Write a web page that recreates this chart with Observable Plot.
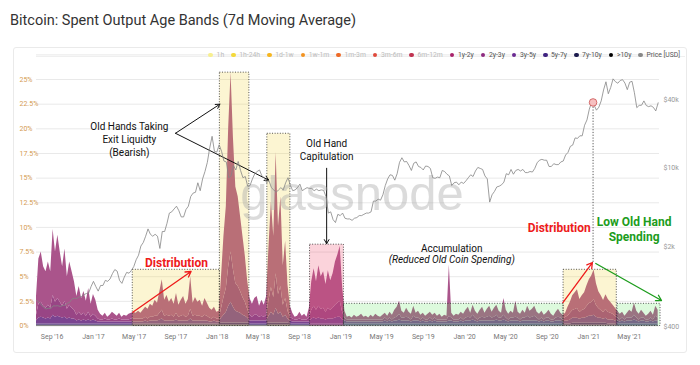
<!DOCTYPE html>
<html>
<head>
<meta charset="utf-8">
<script src="https://cdn.jsdelivr.net/npm/d3@7"></script>
<script src="https://cdn.jsdelivr.net/npm/@observablehq/plot@0.6"></script>
<style>
  html, body { margin: 0; padding: 0; background: #fff; }
  #root { position: relative; width: 700px; height: 365px; overflow: hidden; font-family: Roboto, "Noto Sans", sans-serif; background: #fff; }
  #title { position: absolute; left: 10px; top: 12px; font-size: 14.5px; line-height: 18px; color: #333; white-space: nowrap; }
  #panel { position: absolute; left: 13px; top: 47px; width: 674px; height: 306px; border: 1px solid #eaeaea; border-radius: 3px; box-sizing: border-box; }
  #sep { position: absolute; left: 36px; top: 56px; width: 649px; height: 1px; background: #efefef; }
  #wm { position: absolute; left: 2px; top: 168.5px; width: 700px; text-align: center; font-family: "Liberation Sans", sans-serif; font-size: 49px; line-height: 49px; color: rgba(170,170,170,0.42); }
  .layer { position: absolute; left: 0; top: 44px; }
  #legend { position: absolute; right: 20px; top: 50px; height: 10px; display: flex; align-items: center; gap: 7px; font-size: 6.8px; white-space: nowrap; }
  .item { display: flex; align-items: center; }
  .dot { width: 4.6px; height: 4.6px; border-radius: 50%; margin-right: 3.5px; }
</style>
</head>
<body>
<div id="root">
  <div id="title">Bitcoin: Spent Output Age Bands (7d Moving Average)</div>
  <div id="panel"></div>
  <div id="sep"></div>
  <div id="l1" class="layer"></div>
  <div id="wm">glassnode</div>
  <div id="l2" class="layer"></div>
  <div id="legend"></div>
</div>
<script>
// ---------- DATA (weekly, Sundays from 2016-07-17 to 2021-07-25) ----------
const weekStart = "2016-07-17";
const weekStop = "2021-07-26";
const xDomain = ["2016-07-17", "2021-07-29"];

const bands = [">10y", "7y-10y", "5y-7y", "3y-5y", "2y-3y", "1y-2y"];
const bandFill = ["#1a1a1a", "#2f2858", "#52347e", "#7a4491", "#984585", "#aa548b"];

const v1y2y = [
 1.9,4.6,5.1,4.0,3.7,4.4,3.7,6.7,5.1,6.4,
 5.1,4.0,5.3,3.3,4.4,3.7,2.9,1.9,2.6,1.7,
 2.2,1.5,2.4,1.3,2.0,1.6,0.9,0.6,0.4,0.6,
 0.3,0.5,0.7,0.6,0.4,0.6,0.3,0.5,0.4,0.6,
 0.6,0.7,0.6,0.8,0.6,0.9,1.0,1.0,1.3,1.1,
 1.6,1.3,2.2,3.1,1.6,2.0,1.4,1.7,1.3,2.0,
 1.2,1.6,1.9,1.3,1.7,3.3,1.3,1.8,1.4,1.6,
 1.1,1.7,1.3,1.0,0.9,1.0,0.7,0.8,3.3,6.2,
 8.3,14.1,18.2,13.4,9.8,9.1,7.6,6.2,4.7,2.9,
 1.7,1.3,1.7,1.9,1.1,1.6,1.2,1.9,5.5,8.7,
 6.2,12.3,6.9,9.1,4.0,5.8,2.6,1.1,0.6,0.3,
 0.4,0.7,0.4,0.6,0.3,1.0,2.9,3.8,2.9,4.1,
 3.3,3.7,2.8,3.8,3.0,3.5,4.4,4.9,5.6,2.6,
 0.7,0.3,0.4,0.2,0.5,0.3,0.4,0.6,0.3,0.4,
 0.2,0.5,0.3,0.6,0.4,0.3,0.5,0.5,0.4,0.6,
 0.5,0.8,1.0,1.3,0.7,0.5,0.9,0.6,0.6,1.0,
 0.5,0.7,0.5,0.5,0.4,0.6,0.6,0.5,0.5,0.4,
 0.6,0.3,0.5,0.4,5.2,0.5,0.4,0.6,0.5,0.6,
 0.6,0.8,1.0,0.5,1.0,0.7,0.6,0.8,1.0,0.5,
 0.8,1.0,0.6,0.9,1.0,0.7,0.5,1.7,0.8,0.6,
 0.7,0.5,1.6,0.6,0.6,0.8,0.5,1.0,0.7,0.8,
 1.0,0.6,0.6,0.7,0.5,0.5,0.8,0.6,0.4,0.6,
 0.8,0.5,0.5,0.4,0.9,1.1,1.5,1.7,1.9,1.3,
 1.5,1.7,2.1,2.4,2.7,3.0,2.2,1.7,1.5,1.2,
 1.5,1.3,1.1,0.9,0.8,0.7,0.6,0.6,0.4,0.5,
 0.8,0.6,1.2,0.7,0.6,0.8,0.5,0.4,0.6,0.7,
 0.5,1.0,0.8
];
const v2y3y = [
 0.6,1.4,1.5,1.2,1.1,1.3,1.1,2.0,1.5,1.8,
 1.5,1.2,1.6,1.0,1.3,1.1,0.9,0.6,0.8,0.6,
 0.7,0.5,0.8,0.4,0.6,0.5,0.3,0.2,0.2,0.3,
 0.2,0.2,0.3,0.2,0.2,0.3,0.2,0.2,0.2,0.2,
 0.3,0.3,0.3,0.3,0.3,0.3,0.4,0.3,0.4,0.4,
 0.5,0.5,0.7,0.9,0.5,0.6,0.5,0.6,0.4,0.7,
 0.4,0.5,0.6,0.4,0.5,1.0,0.5,0.6,0.5,0.5,
 0.4,0.6,0.5,0.4,0.3,0.4,0.3,0.3,1.0,1.8,
 2.4,4.0,5.1,3.8,2.8,2.6,2.2,1.8,1.4,0.9,
 0.6,0.4,0.6,0.6,0.4,0.5,0.4,0.6,1.6,2.5,
 1.8,3.5,2.0,2.6,1.2,1.7,0.8,0.4,0.3,0.2,
 0.2,0.3,0.2,0.2,0.2,0.4,0.9,1.2,0.9,1.2,
 1.0,1.1,0.8,1.1,0.9,1.1,1.3,1.4,1.6,0.8,
 0.3,0.2,0.2,0.2,0.2,0.2,0.2,0.2,0.2,0.2,
 0.2,0.2,0.2,0.2,0.2,0.2,0.2,0.3,0.2,0.3,
 0.2,0.3,0.4,0.6,0.3,0.3,0.4,0.3,0.2,0.5,
 0.3,0.3,0.2,0.3,0.2,0.2,0.3,0.2,0.3,0.2,
 0.2,0.2,0.2,0.2,0.5,0.3,0.2,0.2,0.2,0.3,
 0.2,0.3,0.4,0.3,0.5,0.3,0.2,0.3,0.4,0.3,
 0.4,0.5,0.3,0.4,0.5,0.3,0.3,0.5,0.3,0.2,
 0.3,0.3,0.4,0.3,0.2,0.3,0.3,0.5,0.3,0.4,
 0.5,0.3,0.2,0.3,0.2,0.3,0.3,0.2,0.2,0.3,
 0.4,0.3,0.2,0.4,0.5,0.7,0.8,0.9,1.0,0.7,
 0.8,0.9,1.1,1.3,1.4,1.6,1.2,1.0,0.8,0.7,
 0.9,0.8,0.7,0.6,0.5,0.3,0.2,0.3,0.2,0.3,
 0.3,0.3,0.5,0.3,0.2,0.3,0.3,0.2,0.2,0.3,
 0.2,0.5,0.3
];
const v3y5y = [
 0.3,0.6,0.7,0.6,0.5,0.6,0.5,0.9,0.7,0.8,
 0.7,0.6,0.7,0.5,0.6,0.5,0.5,0.3,0.4,0.3,
 0.4,0.3,0.4,0.3,0.4,0.3,0.2,0.2,0.2,0.2,
 0.2,0.2,0.2,0.2,0.2,0.2,0.2,0.2,0.2,0.2,
 0.2,0.2,0.2,0.2,0.2,0.2,0.3,0.2,0.3,0.3,
 0.3,0.3,0.4,0.5,0.3,0.3,0.3,0.3,0.3,0.4,
 0.3,0.3,0.3,0.3,0.3,0.5,0.3,0.3,0.3,0.3,
 0.3,0.3,0.3,0.2,0.2,0.3,0.2,0.2,0.5,0.8,
 1.1,1.7,2.1,1.6,1.2,1.1,1.0,0.8,0.7,0.5,
 0.3,0.3,0.3,0.3,0.3,0.3,0.3,0.3,0.7,1.1,
 0.8,1.5,0.9,1.1,0.6,0.8,0.4,0.3,0.2,0.2,
 0.2,0.2,0.2,0.2,0.2,0.2,0.5,0.6,0.5,0.6,
 0.5,0.5,0.4,0.5,0.5,0.5,0.6,0.7,0.7,0.4,
 0.3,0.2,0.2,0.2,0.2,0.2,0.2,0.2,0.2,0.2,
 0.2,0.2,0.2,0.2,0.2,0.2,0.2,0.3,0.2,0.3,
 0.2,0.3,0.3,0.4,0.3,0.3,0.3,0.3,0.2,0.3,
 0.3,0.3,0.2,0.3,0.2,0.2,0.3,0.2,0.3,0.2,
 0.2,0.2,0.2,0.2,0.3,0.3,0.2,0.2,0.2,0.3,
 0.2,0.3,0.3,0.3,0.4,0.3,0.2,0.3,0.3,0.3,
 0.3,0.3,0.3,0.3,0.4,0.3,0.3,0.4,0.3,0.2,
 0.3,0.3,0.3,0.3,0.2,0.3,0.3,0.3,0.3,0.3,
 0.3,0.3,0.2,0.3,0.2,0.3,0.3,0.2,0.2,0.3,
 0.3,0.3,0.2,0.3,0.3,0.4,0.5,0.5,0.5,0.4,
 0.5,0.5,0.6,0.7,0.7,0.8,0.6,0.5,0.5,0.4,
 0.5,0.4,0.4,0.4,0.3,0.3,0.2,0.3,0.2,0.3,
 0.3,0.3,0.4,0.3,0.2,0.3,0.3,0.2,0.2,0.3,
 0.2,0.3,0.3
];
const v5y7y = [
 0.1,0.1,0.1,0.1,0.1,0.1,0.1,0.1,0.1,0.1,
 0.1,0.1,0.1,0.1,0.1,0.1,0.1,0.1,0.1,0.1,
 0.1,0.1,0.1,0.1,0.1,0.1,0.1,0.1,0.1,0.1,
 0.1,0.1,0.1,0.1,0.1,0.1,0.1,0.1,0.1,0.1,
 0.1,0.1,0.1,0.1,0.1,0.1,0.1,0.1,0.1,0.1,
 0.1,0.1,0.1,0.1,0.1,0.1,0.1,0.1,0.1,0.1,
 0.1,0.1,0.1,0.1,0.1,0.1,0.1,0.1,0.1,0.1,
 0.1,0.1,0.1,0.1,0.1,0.1,0.1,0.1,0.2,0.2,
 0.2,0.2,0.2,0.2,0.2,0.2,0.2,0.2,0.2,0.2,
 0.1,0.1,0.1,0.1,0.1,0.1,0.1,0.1,0.2,0.2,
 0.2,0.2,0.2,0.2,0.2,0.2,0.2,0.1,0.1,0.1,
 0.1,0.1,0.1,0.1,0.1,0.1,0.1,0.1,0.1,0.1,
 0.1,0.1,0.1,0.1,0.1,0.1,0.1,0.1,0.1,0.1,
 0.12,0.12,0.12,0.12,0.12,0.12,0.12,0.12,0.12,0.12,
 0.12,0.12,0.12,0.12,0.12,0.12,0.12,0.12,0.12,0.12,
 0.12,0.12,0.12,0.12,0.12,0.12,0.12,0.12,0.12,0.12,
 0.12,0.12,0.12,0.12,0.12,0.12,0.12,0.12,0.12,0.12,
 0.12,0.12,0.12,0.12,0.12,0.12,0.12,0.12,0.12,0.12,
 0.12,0.12,0.12,0.12,0.12,0.12,0.12,0.12,0.12,0.12,
 0.12,0.12,0.12,0.12,0.12,0.12,0.12,0.12,0.12,0.12,
 0.12,0.12,0.12,0.12,0.12,0.12,0.12,0.12,0.12,0.12,
 0.12,0.12,0.12,0.12,0.12,0.12,0.12,0.12,0.12,0.12,
 0.12,0.12,0.12,0.12,0.12,0.12,0.2,0.2,0.2,0.2,
 0.2,0.2,0.2,0.2,0.2,0.2,0.2,0.2,0.2,0.2,
 0.2,0.12,0.12,0.12,0.12,0.12,0.12,0.12,0.12,0.12,
 0.12,0.12,0.12,0.12,0.12,0.12,0.12,0.12,0.12,0.12,
 0.12,0.12,0.12
];
const v7y10y = [
 0.06,0.06,0.06,0.06,0.06,0.06,0.06,0.06,0.06,0.06,
 0.06,0.06,0.06,0.06,0.06,0.06,0.06,0.06,0.06,0.06,
 0.06,0.06,0.06,0.06,0.06,0.06,0.06,0.06,0.06,0.06,
 0.06,0.06,0.06,0.06,0.06,0.06,0.06,0.06,0.06,0.06,
 0.06,0.06,0.06,0.06,0.06,0.06,0.06,0.06,0.06,0.06,
 0.06,0.06,0.06,0.06,0.06,0.06,0.06,0.06,0.06,0.06,
 0.06,0.06,0.06,0.06,0.06,0.06,0.06,0.06,0.06,0.06,
 0.06,0.06,0.06,0.06,0.06,0.06,0.06,0.06,0.06,0.06,
 0.06,0.06,0.06,0.06,0.06,0.06,0.06,0.06,0.06,0.06,
 0.06,0.06,0.06,0.06,0.06,0.06,0.06,0.06,0.06,0.06,
 0.06,0.06,0.06,0.06,0.06,0.06,0.06,0.06,0.06,0.06,
 0.06,0.06,0.06,0.06,0.06,0.06,0.06,0.06,0.06,0.06,
 0.06,0.06,0.06,0.06,0.06,0.06,0.06,0.06,0.06,0.06,
 0.05,0.05,0.05,0.05,0.05,0.05,0.05,0.05,0.05,0.05,
 0.05,0.05,0.05,0.05,0.05,0.05,0.05,0.05,0.05,0.05,
 0.05,0.05,0.05,0.05,0.05,0.05,0.05,0.05,0.05,0.05,
 0.05,0.05,0.05,0.05,0.05,0.05,0.05,0.05,0.05,0.05,
 0.05,0.05,0.05,0.05,0.05,0.05,0.05,0.05,0.05,0.05,
 0.05,0.05,0.05,0.05,0.05,0.05,0.05,0.05,0.05,0.05,
 0.05,0.05,0.05,0.05,0.05,0.05,0.05,0.05,0.05,0.05,
 0.05,0.05,0.05,0.05,0.05,0.05,0.05,0.05,0.05,0.05,
 0.05,0.05,0.05,0.05,0.05,0.05,0.05,0.05,0.05,0.05,
 0.05,0.05,0.05,0.05,0.05,0.05,0.05,0.05,0.05,0.05,
 0.05,0.05,0.05,0.05,0.05,0.05,0.05,0.05,0.05,0.05,
 0.05,0.05,0.05,0.05,0.05,0.05,0.05,0.05,0.05,0.05,
 0.05,0.05,0.05,0.05,0.05,0.05,0.05,0.05,0.05,0.05,
 0.05,0.05,0.05
];
const v10y = [
 0.04,0.04,0.04,0.04,0.04,0.04,0.04,0.04,0.04,0.04,
 0.04,0.04,0.04,0.04,0.04,0.04,0.04,0.04,0.04,0.04,
 0.04,0.04,0.04,0.04,0.04,0.04,0.04,0.04,0.04,0.04,
 0.04,0.04,0.04,0.04,0.04,0.04,0.04,0.04,0.04,0.04,
 0.04,0.04,0.04,0.04,0.04,0.04,0.04,0.04,0.04,0.04,
 0.04,0.04,0.04,0.04,0.04,0.04,0.04,0.04,0.04,0.04,
 0.04,0.04,0.04,0.04,0.04,0.04,0.04,0.04,0.04,0.04,
 0.04,0.04,0.04,0.04,0.04,0.04,0.04,0.04,0.04,0.04,
 0.04,0.04,0.04,0.04,0.04,0.04,0.04,0.04,0.04,0.04,
 0.04,0.04,0.04,0.04,0.04,0.04,0.04,0.04,0.04,0.04,
 0.04,0.04,0.04,0.04,0.04,0.04,0.04,0.04,0.04,0.04,
 0.04,0.04,0.04,0.04,0.04,0.04,0.04,0.04,0.04,0.04,
 0.04,0.04,0.04,0.04,0.04,0.04,0.04,0.04,0.04,0.04,
 0.03,0.03,0.03,0.03,0.03,0.03,0.03,0.03,0.03,0.03,
 0.03,0.03,0.03,0.03,0.03,0.03,0.03,0.03,0.03,0.03,
 0.03,0.03,0.03,0.03,0.03,0.03,0.03,0.03,0.03,0.03,
 0.03,0.03,0.03,0.03,0.03,0.03,0.03,0.03,0.03,0.03,
 0.03,0.03,0.03,0.03,0.03,0.03,0.03,0.03,0.03,0.03,
 0.03,0.03,0.03,0.03,0.03,0.03,0.03,0.03,0.03,0.03,
 0.03,0.03,0.03,0.03,0.03,0.03,0.03,0.03,0.03,0.03,
 0.03,0.03,0.03,0.03,0.03,0.03,0.03,0.03,0.03,0.03,
 0.03,0.03,0.03,0.03,0.03,0.03,0.03,0.03,0.03,0.03,
 0.03,0.03,0.03,0.03,0.03,0.03,0.03,0.03,0.03,0.03,
 0.03,0.03,0.03,0.03,0.03,0.03,0.03,0.03,0.03,0.03,
 0.03,0.03,0.03,0.03,0.03,0.03,0.03,0.03,0.03,0.03,
 0.03,0.03,0.03,0.03,0.03,0.03,0.03,0.03,0.03,0.03,
 0.03,0.03,0.03
];
const price = [
 680,655,620,590,570,580,575,608,607,610,600,612,617,640,655,700,710,705,730,735,765,780,790,900,
 1000,900,820,920,920,1020,1000,1050,1170,1270,1230,1020,960,1090,1200,1180,1250,1350,
 1550,1700,2050,2200,2500,2900,2600,2500,2600,2500,1950,2750,2750,3250,4000,4100,4350,
 4600,4200,3700,3700,4300,4600,5600,6000,6100,7400,6300,8000,9300,11200,15000,19000,14000,13800,
 16000,14000,11500,11300,8200,8500,10500,9600,11400,9500,8200,8400,6900,7000,8000,8900,9300,
 9600,8500,8200,7400,7700,6700,6400,6100,6400,6700,6400,7400,8200,7000,6300,6400,6700,
 7200,6300,6500,6700,6600,6600,6300,6500,6300,6400,6350,5600,4000,4100,3500,3300,3900,3800,
 4000,3600,3550,3550,3450,3600,3650,3800,3800,3900,4000,4000,4100,5100,5100,5300,5200,
 5800,7000,8000,8700,8600,7800,8900,11200,12300,11300,11400,10500,9500,11000,11300,10300,10100,
 9600,10400,10300,9900,8200,8100,8300,8200,9500,9300,8800,8500,7000,7400,7500,7100,7500,7300,
 7700,8200,8700,8400,9400,10100,9900,9700,8500,8000,5000,5800,6200,6800,6900,7100,7500,
 8900,8700,9700,8800,9500,9700,9400,9700,9100,9100,9300,9200,9900,11100,11700,11900,11700,11700,
 10300,10300,10900,10700,10700,11300,11500,13000,13700,15500,15900,18400,18200,19200,19200,23800,26500,
 33000,38300,35800,32300,34300,39000,48700,57500,45100,51200,61000,57600,55800,
 59000,60000,56000,49000,57000,58000,46000,34000,35600,35700,39000,35500,34700,35300,34200,31800,37500
];

const yTicks = [0, 2.5, 5, 7.5, 10, 12.5, 15, 17.5, 20, 22.5, 25];
const gridTicks = [0, 2.5, 5, 7.5, 10, 12.5, 15, 17.5, 20, 22.5, 25, 27.5];
const xTicks = ["2016-09-01","2017-01-01","2017-05-01","2017-09-01","2018-01-01","2018-05-01","2018-09-01",
  "2019-01-01","2019-05-01","2019-09-01","2020-01-01","2020-05-01","2020-09-01","2021-01-01","2021-05-01"];
const priceTicks = [400, 800, 2000, 6000, 10000, 40000, 80000];
const priceTickLabels = ["$400", "$800", "$2k", "$6k", "$10k", "$40k", "$80k"];

const legendLabels = ["1h","1h-24h","1d-1w","1w-1m","1m-3m","3m-6m","6m-12m","1y-2y","2y-3y","3y-5y","5y-7y","7y-10y",">10y","Price [USD]"];
const legendColors = ["#f7ef8f","#f4d93a","#f6b51e","#f39320","#ee6a26","#df4a3c","#c03350","#a8216b","#8e2a80","#6a2a92","#3f2280","#1b1a4d","#000000","#888888"];
const legendActive = [false,false,false,false,false,false,false,true,true,true,true,true,true,true];

// annotations
const boxStart = ["2017-04-27","2018-01-09","2018-05-29","2018-10-02","2019-01-10","2020-10-19","2021-03-27"];
const boxEnd   = ["2018-01-09","2018-04-06","2018-08-05","2019-01-10","2020-10-19","2021-03-25","2021-08-01"];
const boxTop   = [5.7, 25.7, 19.5, 8.25, 2.25, 5.7, 2.25];
const boxKind  = ["yellow","yellow","yellow","pink","green","yellow","green"];

const arrowFromDate = ["2017-08-31","2017-08-31","2018-11-20","2017-04-27","2020-10-17","2021-01-22"];
const arrowFromY    = [19.55, 19.55, 16.0, 1.4, 2.38, 6.34];
const arrowToDate   = ["2018-01-09","2018-06-02","2018-11-20","2017-10-16","2021-01-12","2021-08-04"];
const arrowToY      = [22.5, 14.8, 8.35, 5.53, 6.44, 2.59];
const arrowKind     = ["black","black","black","red","red","green"];

const noteText = ["Old Hands Taking\nExit Liquidty\n(Bearish)", "Old Hand\nCapitulation", "Accumulation",
  "(Reduced Old Coin Spending)", "Distribution", "Distribution", "Low Old Hand\nSpending"];
const noteDate = ["2017-04-17","2018-11-20","2019-11-24","2019-11-24","2017-09-03","2020-10-06","2021-05-15"];
const noteY    = [19.0, 17.95, 7.9, 6.7, 6.34, 9.96, 9.9];
const noteKind = ["black","black","black","italic","red","red","green"];

const athDate = "2021-01-14";
const athPrice = 37800;
const athDropPrice = 1470;

// ---------- BUILD ----------
const P = d3.utcParse("%Y-%m-%d");
const dates = d3.utcSunday.range(P(weekStart), P(weekStop));
const bandArrays = [v10y, v7y10y, v5y7y, v3y5y, v2y3y, v1y2y];
const rows = [];
bands.forEach((b, k) => {
  dates.forEach((d, i) => rows.push({date: d, band: b, value: bandArrays[k][i] ?? 0}));
});
const priceRows = dates.map((d, i) => ({date: d, price: price[i]})).filter(d => d.price != null);

const boxes = boxStart.map((s, i) => ({x1: P(s), x2: P(boxEnd[i]), top: boxTop[i], kind: boxKind[i]}));
const arrows = arrowFromDate.map((s, i) => ({x1: P(s), y1: arrowFromY[i], x2: P(arrowToDate[i]), y2: arrowToY[i], kind: arrowKind[i]}));
const notes = noteText.map((t, i) => ({text: t, date: P(noteDate[i]), y: noteY[i], kind: noteKind[i]}));
const ath = [{date: P(athDate), price: athPrice, drop: athDropPrice}];

const RED = "#ee1b1b", GREEN = "#1c9c1c";
const boxFill = {yellow: "#f0d232", pink: "#f05070", green: "#64e664"};
const boxOpacity = {yellow: 0.22, pink: 0.25, green: 0.22};
const font = "Roboto, 'Noto Sans', sans-serif";

const xScale = {type: "utc", domain: xDomain.map(P)};

const boxMarks = ["yellow", "pink", "green"].map(k =>
  Plot.rect(boxes.filter(b => b.kind === k), {
    x1: "x1", x2: "x2", y1: 0, y2: "top",
    fill: boxFill[k], fillOpacity: boxOpacity[k],
    stroke: "#2a2a2a", strokeWidth: 0.8, strokeDasharray: "1,1.6"
  })
);
const arrowStyle = {black: ["#111", 1], red: [RED, 1.3], green: [GREEN, 1.3]};
const arrowMarks = Object.keys(arrowStyle).map(k =>
  Plot.arrow(arrows.filter(a => a.kind === k), {
    x1: "x1", y1: "y1", x2: "x2", y2: "y2",
    stroke: arrowStyle[k][0], strokeWidth: arrowStyle[k][1], headLength: 7
  })
);
const textBase = {x: "date", y: "y", text: "text", textAnchor: "middle", fontFamily: font};

const chart = Plot.plot({
  width: 700, height: 306,
  marginLeft: 36, marginRight: 41, marginTop: 10.4, marginBottom: 24.5,
  style: {background: "transparent", fontFamily: font, overflow: "visible"},
  x: xScale,
  y: {domain: [0, 27.5]},
  color: {domain: bands, range: bandFill},
  marks: [
    Plot.gridY({ticks: gridTicks, stroke: "#e9e9e9", strokeOpacity: 1}),
    Plot.areaY(rows, {x: "date", y: "value", z: "band", fill: "band", curve: "linear"}),
    ...boxMarks,
    ...arrowMarks,
    Plot.text(notes.filter(n => n.kind === "black"), {...textBase, fontSize: 10, lineHeight: 1.3, fill: "#111"}),
    Plot.text(notes.filter(n => n.kind === "italic"), {...textBase, fontSize: 10, fontStyle: "italic", fill: "#111"}),
    Plot.text(notes.filter(n => n.kind === "red"), {...textBase, fontSize: 12, fontWeight: "bold", fill: RED}),
    Plot.text(notes.filter(n => n.kind === "green"), {...textBase, fontSize: 12, fontWeight: "bold", lineHeight: 1.33, fill: GREEN}),
    Plot.axisY({ticks: yTicks, tickFormat: d => d + "%", tickSize: 0, tickPadding: 17, textAnchor: "start", fontSize: 7, color: "#d49b52"}),
    Plot.axisX({ticks: xTicks.map(P), tickFormat: d3.utcFormat("%b '%y"), tickSize: 0, tickPadding: 8, fontSize: 7, color: "#777"})
  ]
});
document.getElementById("l1").appendChild(chart);

const priceChart = Plot.plot({
  width: 700, height: 306,
  marginLeft: 36, marginRight: 41, marginTop: 21, marginBottom: 24,
  style: {background: "transparent", fontFamily: font, overflow: "visible"},
  x: {...xScale, axis: null},
  y: {type: "log", domain: [400, 80000]},
  marks: [
    Plot.line(priceRows, {x: "date", y: "price", stroke: "#858585", strokeWidth: 0.8}),
    Plot.ruleX(ath, {x: "date", y1: "drop", y2: "price", stroke: "#444", strokeWidth: 0.9, strokeDasharray: "1.2,1.6"}),
    Plot.dot(ath, {x: "date", y: "price", r: 3.8, fill: "#f6c0c0", stroke: "#cc5050", strokeWidth: 0.8}),
    Plot.axisY({anchor: "right", ticks: priceTicks, tickFormat: d => priceTickLabels[priceTicks.indexOf(d)], tickSize: 0, tickPadding: 4, fontSize: 7, color: "#999"})
  ]
});
document.getElementById("l2").appendChild(priceChart);

// legend
const legend = document.getElementById("legend");
legendLabels.forEach((lab, i) => {
  const it = document.createElement("div");
  it.className = "item";
  it.innerHTML = `<span class="dot" style="background:${legendColors[i]}"></span><span style="color:${legendActive[i] ? "#555" : "#bdbdbd"}">${lab.replace(">", "&gt;")}</span>`;
  legend.appendChild(it);
});

// sanity check of array lengths
const lens = [...bandArrays, price].map(a => a.length);
if (lens.some(l => l !== dates.length)) {
  document.getElementById("root").insertAdjacentHTML("beforeend",
    `<div style="position:absolute;left:20px;top:345px;color:red;font-size:9px">len ${dates.length}: ${lens.join(",")}</div>`);
}
</script>
</body>
</html>
